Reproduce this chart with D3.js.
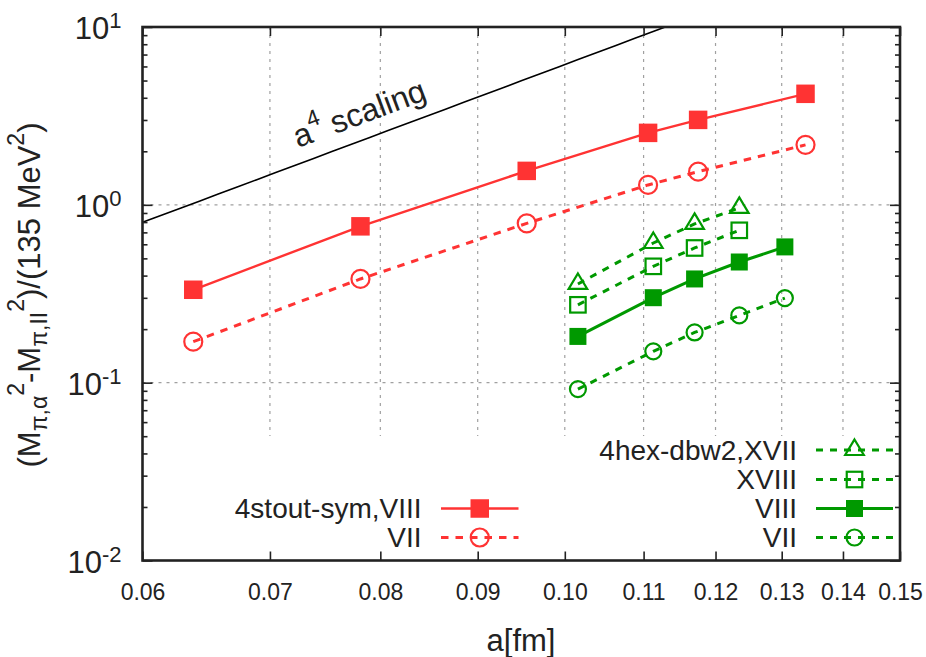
<!DOCTYPE html>
<html>
<head>
<meta charset="utf-8">
<script src="https://cdn.jsdelivr.net/npm/d3@7/dist/d3.min.js"></script>
<style>
  html, body { margin: 0; padding: 0; background: #fff; }
  svg { display: block; }
  text { font-family: "Liberation Sans", Arial, Helvetica, sans-serif; fill: #222; }
</style>
</head>
<body>
<svg id="chart" width="926" height="657"></svg>
<script>
// Lattice spacings a [fm]
const aStout = [0.0638, 0.0781, 0.0955, 0.1106, 0.1175, 0.1338];
const aHex = [0.1016, 0.1113, 0.1170, 0.1235, 0.1305];

// Taste splittings (M_{pi,alpha}^2 - M_{pi,II}^2)/(135 MeV)^2
const stoutVIII = [0.333, 0.757, 1.552, 2.539, 3.004, 4.21];
const stoutVII = [0.170, 0.383, 0.787, 1.294, 1.537, 2.174];
const hexXVII = [0.359, 0.610, 0.781, 0.961];
const hexXVIII = [0.274, 0.451, 0.572, 0.719];
const hexVIII = [0.182, 0.3005, 0.383, 0.477, 0.580];
const hexVII = [0.092, 0.150, 0.1916, 0.2388, 0.299];

// Reference a^4 curve: value at a = 0.06 fm
const scalingRef = { a: 0.06, value: 0.797 };

// Axis ticks
const xTicks = [0.06, 0.07, 0.08, 0.09, 0.10, 0.11, 0.12, 0.13, 0.14, 0.15];
const xTickLabels = ["0.06", "0.07", "0.08", "0.09", "0.10", "0.11", "0.12", "0.13", "0.14", "0.15"];
const yDecades = [0.01, 0.1, 1, 10];
const yExponents = ["-2", "-1", "0", "1"];

const RED = "#ff3333";
const GREEN = "#009900";

const svg = d3.select("#chart");
const L = 142.5, R = 900, T = 27, B = 560.5;

const x = d3.scaleLog().domain([0.06, 0.15]).range([L, R]);
const y = d3.scaleLog().domain([0.01, 10]).range([B, T]);

svg.append("defs").append("clipPath").attr("id", "plotClip")
  .append("rect").attr("x", L).attr("y", T).attr("width", R - L).attr("height", B - T);

// Grid
const grid = svg.append("g").attr("stroke", "#a0a0a0").attr("stroke-width", 1.2)
  .attr("stroke-dasharray", "3,5");
grid.selectAll("line.gx").data(xTicks.slice(1, -1)).join("line")
  .attr("x1", d => x(d)).attr("x2", d => x(d)).attr("y1", T).attr("y2", B);
grid.selectAll("line.gy").data([0.1, 1]).join("line")
  .attr("x1", L).attr("x2", R).attr("y1", d => y(d)).attr("y2", d => y(d));

// Opaque key boxes
svg.append("rect").attr("x", 205).attr("y", 436).attr("width", 325).attr("height", B - 436).attr("fill", "#fff");
svg.append("rect").attr("x", 556).attr("y", 436).attr("width", R - 556).attr("height", B - 436).attr("fill", "#fff");

const plot = svg.append("g").attr("clip-path", "url(#plotClip)");

// a^4 scaling line
const coef = scalingRef.value / Math.pow(scalingRef.a, 4);
const aLine = d3.range(0, 41).map(i => 0.06 * Math.pow(0.15 / 0.06, i / 40));
plot.append("path")
  .attr("d", d3.line().x(d => x(d)).y(d => y(coef * Math.pow(d, 4)))(aLine))
  .attr("fill", "none").attr("stroke", "#000").attr("stroke-width", 1.6);

const lineGen = d3.line().x(d => x(d[0])).y(d => y(d[1]));

function marker(g, type, color, cx, cy) {
  if (type === "fsq") {
    const s = color === RED ? 18.5 : 17;
    g.append("rect").attr("x", cx - s / 2).attr("y", cy - s / 2).attr("width", s).attr("height", s)
      .attr("fill", color);
  } else if (type === "osq") {
    const s = 15.5;
    g.append("rect").attr("x", cx - s / 2).attr("y", cy - s / 2).attr("width", s).attr("height", s)
      .attr("fill", "none").attr("stroke", color).attr("stroke-width", 2.2);
  } else if (type === "circ") {
    const r = color === RED ? 9 : 8;
    g.append("circle").attr("cx", cx).attr("cy", cy).attr("r", r)
      .attr("fill", "none").attr("stroke", color).attr("stroke-width", 2.2);
  } else if (type === "tri") {
    g.append("path")
      .attr("d", `M${cx},${cy - 10.5}L${cx + 9.3},${cy + 5}L${cx - 9.3},${cy + 5}Z`)
      .attr("fill", "none").attr("stroke", color).attr("stroke-width", 2.2)
      .attr("stroke-linejoin", "miter");
  }
}

const series = [
  { a: aStout, v: stoutVIII, color: RED, dash: null, type: "fsq", width: 2.4 },
  { a: aStout, v: stoutVII, color: RED, dash: "7.5,7", type: "circ", width: 3 },
  { a: aHex, v: hexXVII, color: GREEN, dash: "7,7", type: "tri", width: 3 },
  { a: aHex, v: hexXVIII, color: GREEN, dash: "7,7", type: "osq", width: 3 },
  { a: aHex, v: hexVIII, color: GREEN, dash: null, type: "fsq", width: 3 },
  { a: aHex, v: hexVII, color: GREEN, dash: "7,7", type: "circ", width: 3 }
];

series.forEach(s => {
  const pts = s.v.map((v, i) => [s.a[i], v]);
  plot.append("path").attr("d", lineGen(pts))
    .attr("fill", "none").attr("stroke", s.color).attr("stroke-width", s.width)
    .attr("stroke-dasharray", s.dash);
  const mg = plot.append("g");
  pts.forEach(p => marker(mg, s.type, s.color, x(p[0]), y(p[1])));
});

// a^4 label
const lbl = svg.append("text")
  .attr("transform", "translate(298,148) rotate(-20.5)")
  .attr("font-size", 32);
lbl.append("tspan").text("a");
lbl.append("tspan").attr("font-size", 23).attr("dy", -15).text("4");
lbl.append("tspan").attr("dy", 15).text("  scaling");

// Keys
function keyEntry(textRight, sampleL, sampleR, cy, label, s) {
  svg.append("text").attr("x", textRight).attr("y", cy + 9.5).attr("text-anchor", "end")
    .attr("font-size", 28).text(label);
  svg.append("line").attr("x1", sampleL).attr("x2", sampleR).attr("y1", cy).attr("y2", cy)
    .attr("stroke", s.color).attr("stroke-width", s.width).attr("stroke-dasharray", s.dash);
  marker(svg.append("g"), s.type, s.color, (sampleL + sampleR) / 2, cy);
}
keyEntry(421.5, 441, 518.5, 508.5, "4stout-sym,VIII", series[0]);
keyEntry(421.5, 441, 518.5, 537.5, "VII", series[1]);
keyEntry(797, 816, 893, 450, "4hex-dbw2,XVII", series[2]);
keyEntry(797, 816, 893, 479.5, "XVIII", series[3]);
keyEntry(797, 816, 893, 508.5, "VIII", series[4]);
keyEntry(797, 816, 893, 537.5, "VII", series[5]);

// Border
svg.append("rect").attr("x", L).attr("y", T).attr("width", R - L).attr("height", B - T)
  .attr("fill", "none").attr("stroke", "#222").attr("stroke-width", 2.6);

// Axes
const minorY = [];
[0.01, 0.1, 1].forEach(d => { for (let k = 2; k <= 9; k++) minorY.push(d * k); });

function styleAxis(g) {
  g.select(".domain").remove();
  g.selectAll(".tick line").attr("stroke", "#222").attr("stroke-width", 1.6);
}

svg.append("g").attr("transform", `translate(0,${B})`)
  .call(d3.axisBottom(x).tickValues(xTicks).tickSize(-9).tickPadding(23)
    .tickFormat((d, i) => xTickLabels[i]))
  .call(styleAxis)
  .call(g => g.selectAll("text").attr("font-size", 23).attr("fill", "#222")
    .attr("font-family", "'Liberation Sans', Arial, sans-serif"));

svg.append("g").attr("transform", `translate(0,${T})`)
  .call(d3.axisTop(x).tickValues(xTicks).tickSize(-9).tickFormat(""))
  .call(styleAxis);

const yAx = svg.append("g").attr("transform", `translate(${L},0)`)
  .call(d3.axisLeft(y).tickValues(yDecades).tickSize(-10).tickPadding(21).tickFormat(""))
  .call(styleAxis);
yAx.selectAll(".tick text").each(function (d, i) {
  const t = d3.select(this).attr("font-size", 31).attr("fill", "#222")
    .attr("font-family", "'Liberation Sans', Arial, sans-serif").attr("dy", "0.38em");
  t.append("tspan").text("10");
  t.append("tspan").attr("font-size", 22).attr("dy", -11).text(yExponents[i]);
});
svg.append("g").attr("transform", `translate(${L},0)`)
  .call(d3.axisLeft(y).tickValues(minorY).tickSize(-5).tickFormat(""))
  .call(styleAxis);
svg.append("g").attr("transform", `translate(${R},0)`)
  .call(d3.axisRight(y).tickValues(yDecades).tickSize(-10).tickFormat(""))
  .call(styleAxis);
svg.append("g").attr("transform", `translate(${R},0)`)
  .call(d3.axisRight(y).tickValues(minorY).tickSize(-5).tickFormat(""))
  .call(styleAxis);

// Axis titles
svg.append("text").attr("x", 521).attr("y", 651).attr("text-anchor", "middle")
  .attr("font-size", 31).text("a[fm]");

const yt = svg.append("text").attr("transform", "translate(40,295) rotate(-90)")
  .attr("text-anchor", "middle").attr("font-size", 31);
const SUB = 7, SUP = 16;
yt.append("tspan").text("(M");
yt.append("tspan").attr("font-size", 23).attr("dy", SUB).text("π,α");
yt.append("tspan").attr("font-size", 23).attr("dy", -SUB - SUP).text("2");
yt.append("tspan").attr("dy", SUP).text("-M");
yt.append("tspan").attr("font-size", 23).attr("dy", SUB).text("π,II");
yt.append("tspan").attr("font-size", 23).attr("dy", -SUB - SUP).text("2");
yt.append("tspan").attr("dy", SUP).text(")/(135 MeV");
yt.append("tspan").attr("font-size", 23).attr("dy", -SUP).text("2");
yt.append("tspan").attr("dy", SUP).text(")");
</script>
</body>
</html>
